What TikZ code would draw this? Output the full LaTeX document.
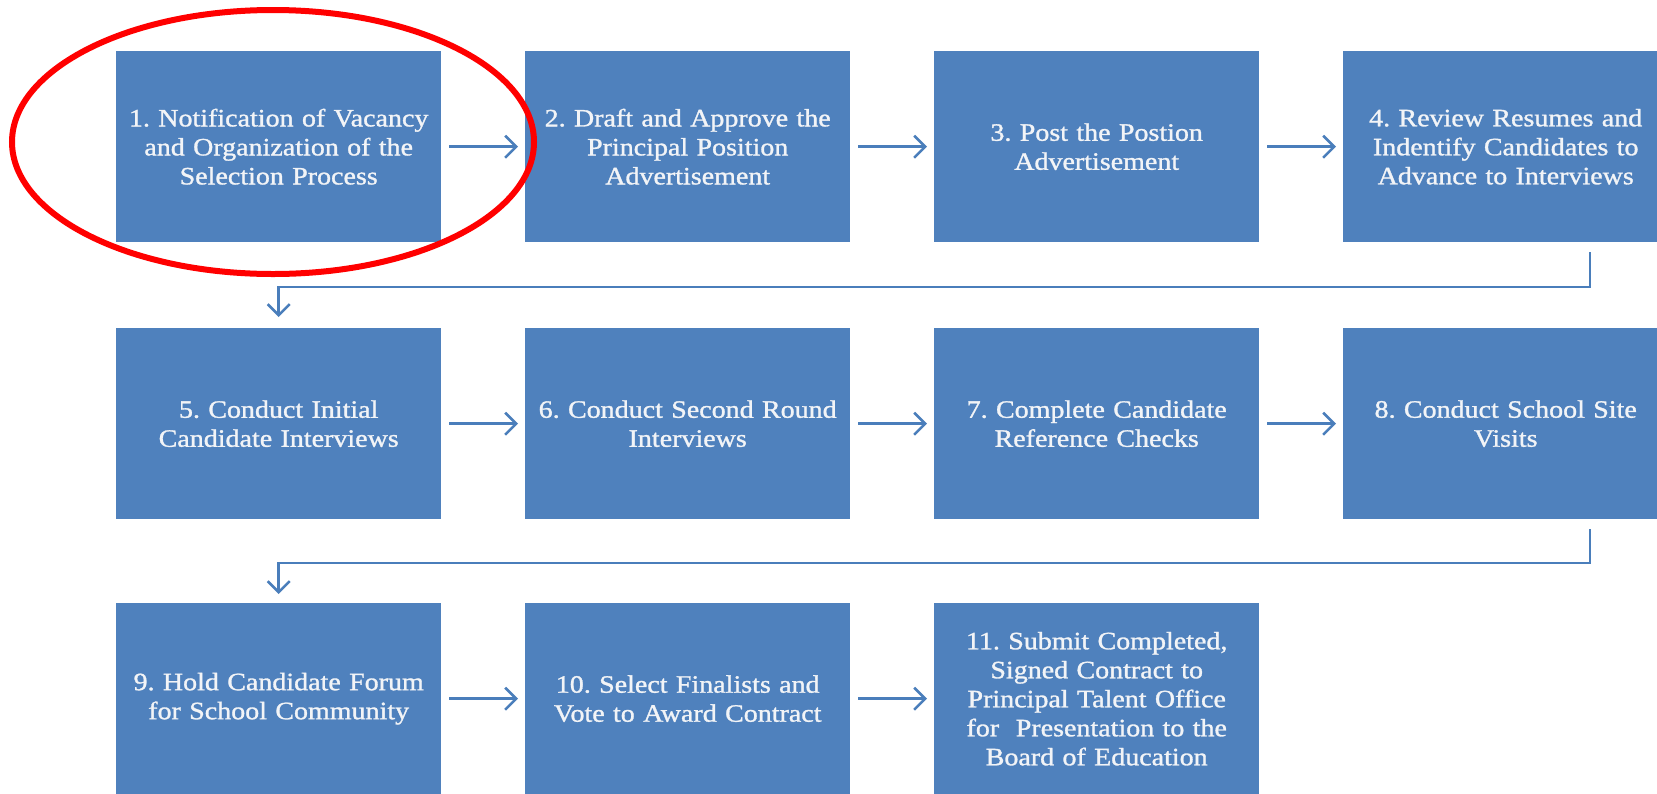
\documentclass[tikz,border=0pt]{standalone}
\usepackage{fontspec}
\setmainfont{Liberation Serif}[FakeStretch=1.12,FakeBold=1.2]
\usetikzlibrary{arrows.meta,positioning}
\definecolor{boxblue}{HTML}{4F81BD}
\definecolor{linkblue}{HTML}{4A7EBB}
\definecolor{boxtext}{HTML}{F2F4F7}
\begin{document}
\frenchspacing
\begin{tikzpicture}[x=1pt,y=-1pt,
  stepbox/.style={fill=boxblue,draw=none,minimum width=325pt,minimum height=191pt,
    text width=315pt,align=center,inner sep=0pt,text=boxtext,
    font=\fontsize{25}{29}\selectfont,anchor=north west},
  link/.style={draw=linkblue,line width=2.6pt,-{Straight Barb[length=11pt,width=22pt,line width=2.6pt]}},
  flow/.style={link,shorten <=8pt,shorten >=7pt}]
\useasboundingbox (0,0) rectangle (1657,793);
\clip (0,0) rectangle (1657,793);
\fill[white] (0,0) rectangle (1657,793);
% row 1
\node[stepbox] (b1) at (116,51) {1. Notification of Vacancy\\and Organization of the\\Selection Process};
\node[stepbox] (b2) at (525,51) {2. Draft and Approve the\\Principal Position\\Advertisement};
\node[stepbox] (b3) at (934,51) {3. Post the Postion\\Advertisement};
\node[stepbox] (b4) at (1343,51) {4. Review Resumes and\\Indentify Candidates to\\Advance to Interviews};
% row 2
\node[stepbox] (b5) at (116,328) {5. Conduct Initial\\Candidate Interviews};
\node[stepbox] (b6) at (525,328) {6. Conduct Second Round\\Interviews};
\node[stepbox] (b7) at (934,328) {7. Complete Candidate\\Reference Checks};
\node[stepbox] (b8) at (1343,328) {8. Conduct School Site\\Visits};
% row 3
\node[stepbox] (b9) at (116,603) {9. Hold Candidate Forum\\for School Community};
\node[stepbox] (b10) at (525,603) {10. Select Finalists and\\Vote to Award Contract};
\node[stepbox] (b11) at (934,603) {11. Submit Completed,\\Signed Contract to\\Principal Talent Office\\for\ \ Presentation to the\\Board of Education};
% horizontal connectors
\draw[flow] (b1.east) -- (b2.west);
\draw[flow] (b2.east) -- (b3.west);
\draw[flow] (b3.east) -- (b4.west);
\draw[flow] (b5.east) -- (b6.west);
\draw[flow] (b6.east) -- (b7.west);
\draw[flow] (b7.east) -- (b8.west);
\draw[flow] (b9.east) -- (b10.west);
\draw[flow] (b10.east) -- (b11.west);
% elbow connectors
\coordinate (k1) at (1590,287);
\coordinate (k2) at (1590,563);
\draw[link,shorten <=10pt,shorten >=11pt] (b4.south -| k1) -- (k1) -| (b5.north);
\draw[link,shorten <=10pt,shorten >=9pt] (b8.south -| k2) -- (k2) -| (b9.north);
% highlight ellipse
\draw[red,line width=6pt] (273,142) ellipse [x radius=261pt,y radius=132pt];
\end{tikzpicture}
\end{document}
